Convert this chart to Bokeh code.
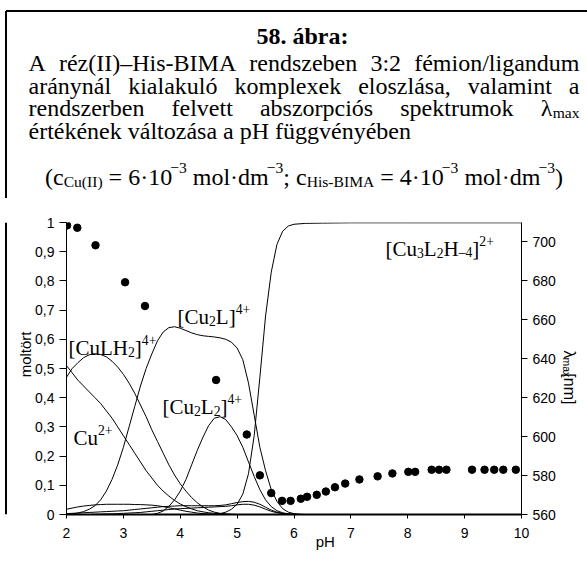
import math
from bokeh.plotting import figure
from bokeh.layouts import column, row
from bokeh.models import Range1d, LinearAxis, FixedTicker, Label
from bokeh.embed import file_html
from bokeh.resources import INLINE

# ---------------- data ----------------
PH = [2.0, 2.1, 2.2, 2.3, 2.4, 2.5, 2.6, 2.7, 2.8, 2.9, 3.0, 3.1, 3.2, 3.3, 3.4,
      3.5, 3.6, 3.7, 3.8, 3.9, 4.0, 4.1, 4.2, 4.3, 4.4, 4.5, 4.6, 4.7, 4.8, 4.9,
      5.0, 5.1, 5.2, 5.3, 5.4, 5.5, 5.6, 5.7, 5.8, 5.9, 6.0, 6.1, 6.2]

CU = [0.51, 0.485, 0.46, 0.44, 0.42, 0.40, 0.38, 0.355, 0.33, 0.30, 0.27, 0.24, 0.21,
      0.18, 0.15, 0.125, 0.10, 0.08, 0.063, 0.048, 0.036, 0.027, 0.019, 0.013, 0.009,
      0.006, 0.004, 0.002, 0.001] + [0.0] * 14

CULH2 = [0.47, 0.50, 0.52, 0.537, 0.547, 0.55, 0.548, 0.54, 0.525, 0.505, 0.48, 0.45,
         0.415, 0.375, 0.335, 0.29, 0.25, 0.21, 0.17, 0.135, 0.105, 0.08, 0.058, 0.04,
         0.026, 0.015, 0.008, 0.004, 0.002, 0.001] + [0.0] * 13

CU2L = [0.0, 0.002, 0.005, 0.01, 0.018, 0.03, 0.05, 0.08, 0.12, 0.17,
        0.23, 0.30, 0.37, 0.44, 0.50, 0.55, 0.595, 0.625, 0.64, 0.643,
        0.638, 0.63, 0.622, 0.616, 0.612, 0.61, 0.608, 0.605, 0.60, 0.59,
        0.57, 0.53, 0.45, 0.34, 0.23, 0.15, 0.085, 0.045, 0.02, 0.008,
        0.003, 0.001, 0.0]

CU2L2 = [0.0] * 16 + [0.004, 0.012, 0.028, 0.05, 0.08, 0.12, 0.17, 0.22, 0.265, 0.305,
                      0.33, 0.335, 0.325, 0.30, 0.27, 0.23, 0.18, 0.13, 0.085, 0.05,
                      0.027, 0.013, 0.006, 0.002, 0.0, 0.0, 0.0]

MINOR1 = [0.018, 0.022, 0.026, 0.029, 0.031, 0.033, 0.034, 0.035, 0.035, 0.035,
          0.035, 0.035, 0.034, 0.034, 0.033, 0.032, 0.030, 0.027, 0.023, 0.019,
          0.015, 0.011, 0.008, 0.005, 0.003, 0.002, 0.001] + [0.0] * 16

MINOR2 = [0.003, 0.004, 0.005, 0.006, 0.007, 0.008, 0.009, 0.010, 0.011, 0.012,
          0.013, 0.015, 0.017, 0.019, 0.021, 0.023, 0.025, 0.027, 0.028, 0.029,
          0.030, 0.030, 0.030, 0.030, 0.030, 0.030, 0.030, 0.031, 0.033, 0.037,
          0.041, 0.044, 0.045, 0.042, 0.035, 0.025, 0.015, 0.008, 0.004, 0.002,
          0.001, 0.0, 0.0]

MINOR3 = [0.0, 0.0, 0.0, 0.0, 0.0, 0.001, 0.001, 0.002, 0.002, 0.003,
          0.004, 0.005, 0.006, 0.007, 0.009, 0.011, 0.013, 0.015, 0.017, 0.019,
          0.020, 0.021, 0.022, 0.023, 0.024, 0.025, 0.026, 0.027, 0.028, 0.030,
          0.033, 0.035, 0.035, 0.032, 0.026, 0.018, 0.011, 0.006, 0.003, 0.001,
          0.0, 0.0, 0.0]

CU3_PH = [4.6, 4.7, 4.8, 4.9, 5.0, 5.1, 5.2, 5.3, 5.4, 5.5, 5.6, 5.7, 5.8, 5.9, 6.0,
          6.2, 6.5, 7.0, 8.0, 10.0]
CU3 = [0.0, 0.003, 0.008, 0.018, 0.035, 0.07, 0.14, 0.27, 0.47, 0.68, 0.83, 0.925,
       0.97, 0.988, 0.994, 0.997, 0.998, 0.999, 0.999, 0.999]

LAM_PH = [2.01, 2.19, 2.51, 3.03, 3.38, 4.63, 5.17, 5.40, 5.60, 5.79, 5.94, 6.12, 6.23,
          6.40, 6.56, 6.72, 6.90, 7.15, 7.47, 7.73, 8.01, 8.13, 8.42, 8.55, 8.68, 9.13,
          9.35, 9.52, 9.68, 9.90]
LAM = [708.5, 707.3, 698.3, 679.3, 667.1, 629.1, 601.1, 580.1, 571.0, 567.0, 567.0,
       568.1, 569.1, 570.1, 571.8, 574.0, 575.9, 578.0, 579.6, 581.1, 581.9, 581.9,
       583.0, 583.0, 583.0, 583.0, 583.0, 583.0, 583.0, 583.0]

Y_TICKS = [0, 0.1, 0.2, 0.3, 0.4, 0.5, 0.6, 0.7, 0.8, 0.9, 1]
Y_TICK_LABELS = ["0", "0,1", "0,2", "0,3", "0,4", "0,5", "0,6", "0,7", "0,8", "0,9", "1"]
X_TICKS = [2, 3, 4, 5, 6, 7, 8, 9, 10]
LAM_TICKS = [560, 580, 600, 620, 640, 660, 680, 700]

# ---------------- layout (page pixels) ----------------
PW, PHT = 587, 561
HC = 198                     # caption band height
HM = PHT - HC                # chart band height
LS_W = 32                    # left strip width
CH_R = 558                   # right edge of the chart figure
FR_L, FR_R, FR_T, FR_B = 66, 521, 222, 514
BORDER_X, BORDER_Y = 5.5, 10.5
SERIF = "Liberation Serif"
SANS = "Liberation Sans"


def blank(w, h, x0, x1, y0, y1):
    f = figure(width=w, height=h, output_backend="svg", toolbar_location=None,
               x_range=Range1d(x0, x1), y_range=Range1d(y1, y0),
               x_axis_location=None, y_axis_location=None, min_border=0)
    f.outline_line_color = None
    f.grid.visible = False
    f.background_fill_color = "white"
    f.border_fill_color = "white"
    return f


# ---------------- text helpers ----------------
TW = {' ': 250, 'A': 722, 'B': 667, 'C': 667, 'H': 722, 'I': 333, 'L': 611, 'M': 889,
      '(': 333, ')': 333, '[': 333, ']': 333, '–': 500, '-': 333, '−': 564, '+': 564,
      '/': 278, ':': 278, ';': 278, ',': 250, '.': 250, '·': 250, '=': 564,
      'a': 444, 'b': 500, 'c': 444, 'd': 500, 'e': 444, 'f': 333, 'g': 500, 'h': 500,
      'i': 278, 'k': 500, 'l': 278, 'm': 778, 'n': 500, 'o': 500, 'p': 500, 'r': 333,
      's': 389, 't': 278, 'u': 500, 'v': 500, 'x': 500, 'y': 500, 'z': 444,
      'á': 444, 'é': 444, 'ó': 500, 'ö': 500, 'ü': 500, 'λ': 500}
SW = {'[': 278, ']': 278, 'n': 556, 'm': 833, 'a': 556, 'x': 500, 'λ': 556}
SUBR = 0.65


def tw(t, size, table=TW):
    return sum(table.get(c, 500) for c in t) / 1000.0 * size


def seg_w(segs, size, table=TW):
    return sum(tw(t, size * SUBR if k else size, table) for t, k in segs)


def rich(fig, segs, x0, base, size, font=SERIF, angle=0.0, table=TW):
    d = (math.cos(angle), -math.sin(angle))      # advance direction (page px)
    u = (-math.sin(angle), -math.cos(angle))     # "up" direction (page px)
    pos = 0.0
    for t, k in segs:
        fs = size * SUBR if k else size
        off = {None: 0.0, "sub": -0.2 * size, "sup": 0.36 * size}[k]
        lead = len(t) - len(t.lstrip(" "))
        pos += tw(" " * lead, fs, table)
        body = t.strip(" ")
        if body:
            x = x0 + d[0] * pos + u[0] * off
            y = base + d[1] * pos + u[1] * off
            fig.add_layout(Label(x=x, y=y, text=body, text_font=font,
                                 text_font_size=f"{fs:.1f}px", angle=angle,
                                 text_baseline="alphabetic", text_align="left",
                                 text_color="black"))
        pos += tw(t.lstrip(" "), fs, table)


def justify(fig, words, left, right, base, size):
    total = sum(seg_w(w, size) for w in words)
    gap = (right - left - total) / (len(words) - 1)
    x = left
    for w in words:
        rich(fig, w, x, base, size)
        x += seg_w(w, size) + gap


# ---------------- caption band ----------------
cap = blank(PW, HC, 0, PW, 0, HC)
cap.line([BORDER_X, BORDER_X], [HC, BORDER_Y], line_color="black", line_width=2)
cap.line([BORDER_X, PW], [BORDER_Y, BORDER_Y], line_color="black", line_width=2)

CAP = 24
cap.add_layout(Label(x=302, y=35, text="58. ábra:", text_font=SERIF,
                     text_font_style="bold", text_font_size=f"{CAP}px", text_align="center",
                     text_baseline="alphabetic", text_color="black"))
TL, TR = 28, 579
justify(cap, [[("A", None)], [("réz(II)–His-BIMA", None)], [("rendszeben", None)],
              [("3:2", None)], [("fémion/ligandum", None)]], TL, TR, 62, CAP)
justify(cap, [[("aránynál", None)], [("kialakuló", None)], [("komplexek", None)],
              [("eloszlása,", None)], [("valamint", None)], [("a", None)]], TL, TR, 85, CAP)
justify(cap, [[("rendszerben", None)], [("felvett", None)], [("abszorpciós", None)],
              [("spektrumok", None)], [("λ", None), ("max", "sub")]], TL, TR, 107.5, CAP)
rich(cap, [("értékének változása a pH függvényében", None)], TL, 130, CAP)
line6 = [("(c", None), ("Cu(II)", "sub"), (" = 6·10", None), ("−3", "sup"),
         (" mol·dm", None), ("−3", "sup"), ("; c", None), ("His-BIMA", "sub"),
         (" = 4·10", None), ("−3", "sup"), (" mol·dm", None), ("−3", "sup"), (")", None)]
rich(cap, line6, 303.5 - seg_w(line6, CAP) / 2, 176, CAP)

# ---------------- left strip (border + y title) ----------------
ls = blank(LS_W, HM, 0, LS_W, HC, PHT)
ls.line([BORDER_X, BORDER_X], [HC, PHT], line_color="black", line_width=2)
ls.add_layout(Label(x=24.5, y=362, text="moltört", text_font=SANS, text_font_size="15px",
                    text_align="center", text_baseline="alphabetic",
                    angle=math.pi / 2, text_color="black"))

# ---------------- right strip (lambda title) ----------------
rs = blank(PW - CH_R, HM, CH_R, PW, HC, PHT)
rich(rs, [("λ", None), ("max", "sub"), ("[nm]", None)], 569, 357, 16, font=SANS,
     angle=-math.pi / 2, table=SW)

# ---------------- chart ----------------
CW = CH_R - LS_W
p = figure(width=CW, height=HM, output_backend="svg", toolbar_location=None,
           x_range=Range1d(2, 10), y_range=Range1d(0, 1),
           min_border_left=FR_L - LS_W, min_border_right=CH_R - FR_R,
           min_border_top=FR_T - HC, min_border_bottom=PHT - FR_B)
p.outline_line_color = None
p.grid.visible = False
p.background_fill_color = "white"
p.border_fill_color = "white"
p.extra_y_ranges = {"lam": Range1d(560, 710)}

xa = p.xaxis[0]
xa.ticker = FixedTicker(ticks=X_TICKS)
xa.axis_line_width = 2
xa.major_tick_out = 4
xa.major_tick_in = 0
xa.minor_tick_line_color = None
xa.major_label_standoff = 9
xa.major_label_text_font = SANS
xa.major_label_text_font_size = "14px"
xa.major_label_text_color = "black"
xa.axis_label = "\u00a0" * 15 + "pH"
xa.axis_label_text_font = SANS
xa.axis_label_text_font_size = "15px"
xa.axis_label_text_font_style = "normal"
xa.axis_label_text_color = "black"
xa.axis_label_standoff = -8

ya = p.yaxis[0]
ya.ticker = FixedTicker(ticks=Y_TICKS)
ya.major_label_overrides = {t: s for t, s in zip(Y_TICKS, Y_TICK_LABELS)}
ya.major_tick_out = 7
ya.major_tick_in = 0
ya.minor_tick_line_color = None
ya.major_label_standoff = 5
ya.major_label_text_font = SANS
ya.major_label_text_font_size = "14px"
ya.major_label_text_color = "black"

ra = LinearAxis(y_range_name="lam", ticker=FixedTicker(ticks=LAM_TICKS))
ra.major_tick_out = 6
ra.major_tick_in = 0
ra.minor_tick_line_color = None
ra.major_label_standoff = 5
ra.major_label_text_font = SANS
ra.major_label_text_font_size = "14px"
ra.major_label_text_color = "black"
p.add_layout(ra, "right")

for ys in (MINOR3, MINOR2, MINOR1, CU, CULH2, CU2L, CU2L2):
    p.line(PH, ys, line_color="black", line_width=1)
p.line(CU3_PH, CU3, line_color="black", line_width=1)

p.scatter(LAM_PH, LAM, y_range_name="lam", size=7.5, marker="circle",
          fill_color="black", line_color="black")

# species labels, placed in page pixels converted to data units


def dx(px):
    return 2 + (px - FR_L) / (FR_R - FR_L) * 8


def dy(py):
    return (FR_B - py) / (FR_B - FR_T)


def chem(segs, x0, base, size=21):
    pos = 0.0
    for t, k in segs:
        fs = size * SUBR if k else size
        off = {None: 0.0, "sub": 0.2 * size, "sup": -0.36 * size}[k]
        p.add_layout(Label(x=dx(x0 + pos), y=dy(base + off), text=t, text_font=SERIF,
                           text_font_size=f"{fs:.1f}px", text_baseline="alphabetic",
                           text_align="left", text_color="black"))
        pos += tw(t, fs)


chem([("[CuLH", None), ("2", "sub"), ("]", None), ("4+", "sup")], 68, 347)
chem([("[Cu", None), ("2", "sub"), ("L]", None), ("4+", "sup")], 177, 316)
chem([("[Cu", None), ("2", "sub"), ("L", None), ("2", "sub"), ("]", None), ("4+", "sup")],
     162, 406)
chem([("Cu", None), ("2+", "sup")], 73, 437)
chem([("[Cu", None), ("3", "sub"), ("L", None), ("2", "sub"), ("H", None), ("–4", "sub"),
      ("]", None), ("2+", "sup")], 385, 248)

layout = column(cap, row(ls, p, rs))
open("out.html", "w").write(file_html(layout, INLINE))
